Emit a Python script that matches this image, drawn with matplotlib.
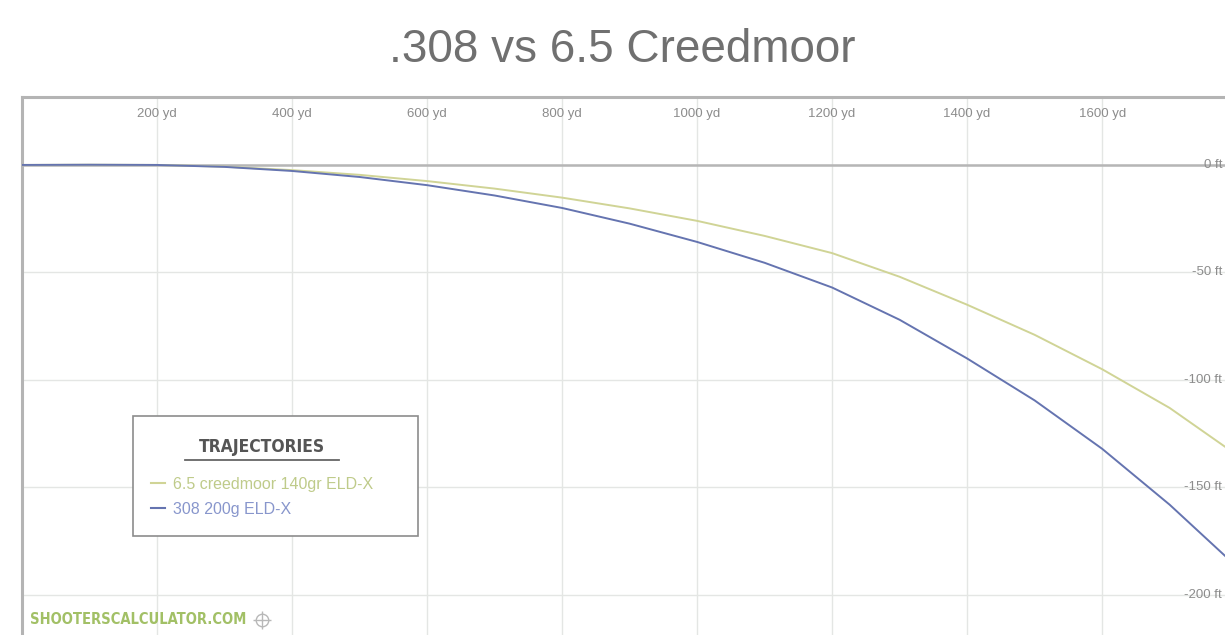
import matplotlib
matplotlib.use("Agg")
import matplotlib.pyplot as plt
from matplotlib.lines import Line2D
from matplotlib.patches import Rectangle

# ---- data ----
yards = [0, 100, 200, 300, 400, 500, 600, 700, 800, 900, 1000,
         1100, 1200, 1300, 1400, 1500, 1600, 1700, 1800]
drop_65cm = [0, 0.1, 0, -0.8, -2.4, -4.6, -7.5, -11, -15.2, -20.2, -26,
             -33, -41, -52, -65, -79, -95, -113, -135]
drop_308 = [0, 0.1, 0, -0.9, -2.8, -5.6, -9.4, -14.2, -20, -27.3, -35.8,
            -45.5, -57, -72, -90, -109.5, -132, -158, -187]
series_names = ["6.5 creedmoor 140gr ELD-X", "308 200g ELD-X"]
series_colors = ["#d0d496", "#6574b0"]
label_colors = ["#bfcb8a", "#8896cc"]

xticks = [200, 400, 600, 800, 1000, 1200, 1400, 1600]
xtick_labels = ["200 yd", "400 yd", "600 yd", "800 yd", "1000 yd",
                "1200 yd", "1400 yd", "1600 yd"]
yticks = [0, -50, -100, -150, -200]
ytick_labels = ["0 ft", "-50 ft", "-100 ft", "-150 ft", "-200 ft"]

title = ".308 vs 6.5 Creedmoor"
legend_title = "TRAJECTORIES"
watermark = "SHOOTERSCALCULATOR.COM"

# ---- figure ----
W, H = 1225, 635
fig = plt.figure(figsize=(W / 100, H / 100), dpi=100)
fig.patch.set_facecolor("white")

ax_left, ax_top = 22, 97
AW, AH = W - ax_left, H - ax_top
ax = fig.add_axes([ax_left / W, 0, AW / W, AH / H])
ax.set_xlim(0, 1782)
ax.set_ylim(-218.6, 31.6)

for s in ["right", "bottom"]:
    ax.spines[s].set_visible(False)
for s in ["top", "left"]:
    ax.spines[s].set_color("#b4b4b4")
    ax.spines[s].set_linewidth(2.2)

ax.set_xticks(xticks)
ax.set_yticks(yticks)
ax.tick_params(length=0, labelbottom=False, labelleft=False)
ax.grid(True, color="#e4e6e4", linewidth=1.0)
ax.set_axisbelow(True)
ax.axhline(0, color="#b6b6b6", linewidth=1.8, zorder=1)

# top tick labels inside the plot
for xv, lab in zip(xticks, xtick_labels):
    ax.text(xv, (H - 114) / AH, lab, transform=ax.get_xaxis_transform(),
            ha="center", va="center", fontsize=9.5, color="#8c8c8c",
            family="Liberation Sans")
# right tick labels inside the plot
for yv, lab in zip(yticks, ytick_labels):
    ax.text((1222 - ax_left) / AW, yv, lab, transform=ax.get_yaxis_transform(),
            ha="right", va="center", fontsize=9.5, color="#8c8c8c",
            family="Liberation Sans", clip_on=False)

# curves
ax.plot(yards, drop_65cm, color=series_colors[0], linewidth=1.4, zorder=3)
ax.plot(yards, drop_308, color=series_colors[1], linewidth=1.4, zorder=3)

# title
fig.text(622 / W, 1 - 50 / H, title, ha="center", va="center", fontsize=33,
         color="#707070", family="Liberation Sans")

# legend frame (box) and legend content
ax.add_patch(Rectangle(((133 - ax_left) / AW, (H - 536) / AH),
                       (418 - 133) / AW, (536 - 416) / AH,
                       transform=ax.transAxes, facecolor="white",
                       edgecolor="#8c8c8c", linewidth=1.2, zorder=4))
handles = [Line2D([], [], color=c, linewidth=1.5) for c in series_colors]
leg = ax.legend(handles, series_names, loc="upper left",
                bbox_to_anchor=((151 - ax_left) / AW, (H - 438) / AH),
                title=legend_title, fontsize=11.5, labelcolor=label_colors,
                handlelength=0.9, handletextpad=0.5, borderpad=0,
                labelspacing=0.62, frameon=False, borderaxespad=0,
                title_fontproperties={"family": "DejaVu Sans", "size": 12.5,
                                      "weight": "bold", "stretch": "condensed"})
leg.get_title().set_color("#555555")
leg._legend_box.sep = 15
leg.set_zorder(5)
for t in leg.get_texts():
    t.set_family("Liberation Sans")

# watermark
wm = fig.text(30 / W, 1 - 620 / H, watermark, ha="left", va="center",
              fontsize=10.5, color="#a2c066", weight="bold",
              stretch="condensed", family="DejaVu Sans")

# underline legend title, crosshair icon after watermark
fig.canvas.draw()
bb = leg.get_title().get_window_extent()
uy = bb.y0 - 4
fig.add_artist(Line2D([(bb.x0 - 14) / W, (bb.x1 + 14) / W], [uy / H, uy / H],
                      color="#666666", linewidth=1.3,
                      transform=fig.transFigure, zorder=6))
wb = wm.get_window_extent()
cx, cy = (wb.x1 + 16) / W, (H - 620) / H
fig.add_artist(Line2D([cx], [cy], marker="o", markersize=9, markerfacecolor="none",
                      markeredgecolor="#b8b8b8", markeredgewidth=1.0,
                      linestyle="none", transform=fig.transFigure))
fig.add_artist(Line2D([cx], [cy], marker="+", markersize=13,
                      markeredgecolor="#b8b8b8", markeredgewidth=1.0,
                      linestyle="none", transform=fig.transFigure))

fig.savefig("out.png", dpi=100, facecolor="white")
